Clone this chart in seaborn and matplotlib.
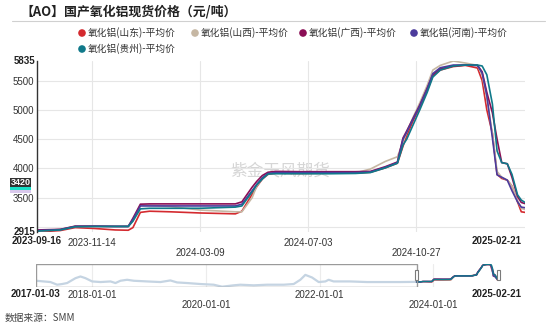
import matplotlib
matplotlib.use("Agg")
import numpy as np
import pandas as pd
import matplotlib.pyplot as plt
import matplotlib.transforms as mtransforms
from matplotlib.patches import Rectangle
import seaborn as sns

# ---- data -------------------------------------------------------------
dates = ["2023-09-16", "2023-10-11", "2023-10-27", "2023-11-17", "2023-12-09",
         "2023-12-23", "2023-12-28", "2024-01-05", "2024-01-15", "2024-02-06",
         "2024-03-09", "2024-04-16", "2024-04-23", "2024-05-04", "2024-05-09",
         "2024-05-15", "2024-05-21", "2024-05-29", "2024-06-24", "2024-07-27",
         "2024-08-23", "2024-09-08", "2024-09-24", "2024-10-07", "2024-10-13",
         "2024-10-17", "2024-10-24", "2024-10-31", "2024-11-08", "2024-11-14",
         "2024-11-22", "2024-12-06", "2024-12-19", "2025-01-01", "2025-01-06",
         "2025-01-11", "2025-01-17", "2025-01-22", "2025-01-27", "2025-02-02",
         "2025-02-07", "2025-02-13", "2025-02-17", "2025-02-21"]

shandong = [2915, 2940, 2990, 2975, 2950, 2945, 2990, 3250, 3270, 3260,
            3240, 3225, 3270, 3560, 3690, 3820, 3900, 3920, 3915, 3920,
            3920, 3935, 4010, 4090, 4380, 4560, 4820, 5050, 5330, 5580,
            5680, 5740, 5760, 5715, 5500, 5000, 4600, 3900, 3830, 3800,
            3700, 3430, 3260, 3250]
shanxi = [2930, 2960, 3010, 3010, 3010, 3010, 3100, 3370, 3370, 3350,
          3290, 3260, 3260, 3500, 3700, 3830, 3910, 3920, 3915, 3920,
          3925, 3990, 4120, 4200, 4450, 4620, 4880, 5120, 5420, 5680,
          5760, 5835, 5800, 5760, 5600, 5200, 4600, 3950, 3850, 3800,
          3700, 3450, 3320, 3300]
guangxi = [2950, 2960, 3015, 3015, 3010, 3010, 3150, 3390, 3395, 3395,
           3395, 3395, 3430, 3680, 3780, 3880, 3935, 3950, 3945, 3945,
           3945, 3950, 4030, 4110, 4520, 4640, 4860, 5080, 5370, 5600,
           5700, 5750, 5766, 5760, 5650, 5300, 4950, 4500, 4100, 4080,
           3850, 3520, 3420, 3400]
henan = [2940, 2955, 3010, 3012, 3010, 3010, 3130, 3360, 3360, 3360,
         3360, 3360, 3390, 3620, 3730, 3840, 3915, 3930, 3930, 3930,
         3930, 3940, 4020, 4100, 4500, 4620, 4850, 5070, 5360, 5620,
         5720, 5766, 5766, 5760, 5630, 5250, 4520, 3890, 3850, 3800,
         3620, 3430, 3340, 3330]
guizhou = [2930, 2950, 3005, 3010, 3010, 3010, 3100, 3310, 3320, 3320,
           3320, 3340, 3360, 3600, 3720, 3820, 3905, 3910, 3910, 3910,
           3915, 3930, 4010, 4090, 4400, 4500, 4750, 5000, 5300, 5560,
           5680, 5750, 5766, 5766, 5750, 5600, 5100, 4300, 4100, 4080,
           3900, 3550, 3460, 3420]

series_names = ["氧化铝(山东)-平均价", "氧化铝(山西)-平均价", "氧化铝(广西)-平均价",
                "氧化铝(河南)-平均价", "氧化铝(贵州)-平均价"]
series_values = [shandong, shanxi, guangxi, henan, guizhou]
series_colors = ["#d42a2f", "#c6b7a3", "#8a0e55", "#4c3b9c", "#10798a"]

# longer history shown in the range selector
hist_dates = ["2017-01-03", "2017-04-06", "2017-05-19", "2017-06-20", "2017-07-22",
              "2017-09-14", "2017-10-16", "2017-11-17", "2017-12-30", "2018-02-22",
              "2018-04-27", "2018-05-29", "2018-06-30", "2018-08-12", "2018-09-24",
              "2018-12-19", "2019-03-14", "2019-05-17", "2019-06-29", "2019-09-02",
              "2019-11-26", "2020-02-20", "2020-04-14", "2020-06-27", "2020-08-09",
              "2020-11-03", "2021-01-28", "2021-05-15", "2021-07-18", "2021-08-30",
              "2021-10-01", "2021-11-13", "2021-12-26", "2022-02-07", "2022-02-28",
              "2022-04-01", "2022-07-17", "2022-11-02", "2023-02-16", "2023-06-04",
              "2023-09-15"]
hist_values = [3130, 2920, 2490, 2600, 2760, 3550, 3820, 3550, 3020, 2920,
               3020, 2760, 3130, 3290, 3130, 3020, 2920, 3180, 2860, 2760,
               2600, 2490, 2170, 2390, 2490, 2390, 2490, 2490, 2600, 3290,
               4080, 3660, 2920, 3020, 3290, 3020, 3020, 2920, 2920, 2920,
               2950]

main_xticks_row1 = ["2023-11-14", "2024-07-03"]
main_xticks_row2 = ["2024-03-09", "2024-10-27"]
main_yticks = [3000, 3500, 4000, 4500, 5000, 5500]
main_ylabels = ["", "3500", "4000", "4500", "5000", "5500"]
nav_xticks_row1 = ["2018-01-01", "2022-01-01"]
nav_xticks_row2 = ["2020-01-01", "2024-01-01"]
y_min, y_max = 2915, 5835
last_label = "3420"

# ---- frames -----------------------------------------------------------
long_df = pd.concat(
    [pd.DataFrame({"date": pd.to_datetime(dates), "price": v, "series": n})
     for n, v in zip(series_names, series_values)],
    ignore_index=True)
hist_df = pd.DataFrame({"date": pd.to_datetime(hist_dates), "price": hist_values})
palette = dict(zip(series_names, series_colors))

sns.set_theme(style="white")
plt.rcParams["font.family"] = ["Liberation Sans", "Noto Sans CJK SC", "DejaVu Sans"]

W, H = 550, 327
fig = plt.figure(figsize=(W / 100, H / 100), dpi=100)
fig.patch.set_facecolor("white")


def frac(x0, y0, x1, y1):
    return [x0 / W, 1 - y1 / H, (x1 - x0) / W, (y1 - y0) / H]


# ---- main chart -------------------------------------------------------
ax = fig.add_axes(frac(37, 61, 525, 232))
ax.text(0.498, 0.36, "紫金天风期货", transform=ax.transAxes, fontsize=12,
        color="#d6d6d6", ha="center", va="center",
        family=["Noto Sans CJK SC"], zorder=0.5)
sns.lineplot(data=long_df, x="date", y="price", hue="series", palette=palette,
             linewidth=1.2, legend=False, ax=ax, estimator=None, sort=False)
start, end = pd.Timestamp(dates[0]), pd.Timestamp(dates[-1])
ax.set_xlim(start, end)
ax.set_ylim(y_min, y_max)
ax.set_xlabel("")
ax.set_ylabel("")
ax.set_yticks(main_yticks)
ax.set_yticklabels(main_ylabels)
ax.set_xticks(pd.to_datetime(main_xticks_row1))
ax.set_xticklabels(main_xticks_row1)
ax.set_xticks(pd.to_datetime(main_xticks_row2), minor=True)
ax.set_xticklabels(main_xticks_row2, minor=True)
ax.tick_params(axis="y", length=0, pad=2, labelsize=7, labelcolor="#333333")
ax.tick_params(axis="x", which="major", length=0, pad=4, labelsize=7,
               labelcolor="#333333")
ax.tick_params(axis="x", which="minor", length=0, pad=11.5, labelsize=7,
               labelcolor="#333333")
ax.grid(True, which="major", color="#e6e6e6", linewidth=0.8)
ax.grid(True, which="minor", axis="x", color="#e6e6e6", linewidth=0.8)
ax.set_axisbelow(True)
for side in ["top", "right", "bottom"]:
    ax.spines[side].set_visible(False)
ax.spines["left"].set_color("#333333")
ax.spines["left"].set_linewidth(1.0)

# ---- range selector ---------------------------------------------------
nav = fig.add_axes(frac(36, 264, 498, 287))
sns.lineplot(data=hist_df, x="date", y="price", color="#c5d4e2", linewidth=1.6,
             ax=nav, estimator=None, sort=False)
sns.lineplot(data=long_df, x="date", y="price", hue="series", palette=palette,
             linewidth=1.0, legend=False, ax=nav, estimator=None, sort=False)
nav.set_xlim(pd.Timestamp(hist_dates[0]), end)
nav.set_ylim(2120, 5840)
nav.set_xlabel("")
nav.set_ylabel("")
nav.set_yticks([])
nav.set_xticks(pd.to_datetime(nav_xticks_row1))
nav.set_xticklabels(nav_xticks_row1)
nav.set_xticks(pd.to_datetime(nav_xticks_row2), minor=True)
nav.set_xticklabels(nav_xticks_row2, minor=True)
nav.tick_params(axis="x", which="major", length=0, pad=2.5, labelsize=7,
                labelcolor="#333333")
nav.tick_params(axis="x", which="minor", length=0, pad=9, labelsize=7,
                labelcolor="#333333")
nav.grid(True, which="both", axis="x", color="#ececec", linewidth=0.8)
for side in nav.spines:
    nav.spines[side].set_visible(False)
blend = mtransforms.blended_transform_factory(nav.transData, nav.transAxes)
x0 = matplotlib.dates.date2num(pd.Timestamp(hist_dates[0]))
x1 = matplotlib.dates.date2num(start)
nav.add_patch(Rectangle((x0, 0), x1 - x0, 1, transform=blend, fill=False,
                        edgecolor="#9a9a9a", linewidth=1.0, zorder=5))

# ---- overlay for titles, legend and labels ----------------------------
ov = fig.add_axes([0, 0, 1, 1], zorder=10)
ov.set_xlim(0, W)
ov.set_ylim(H, 0)
ov.axis("off")
ov.patch.set_alpha(0)

ov.text(20, 11.5, "【AO】国产氧化铝现货价格（元/吨）", fontsize=9.3, fontweight="bold",
        family=["Noto Sans CJK SC"], color="#222222", va="center", ha="left")
ov.plot([12, 545], [21, 21], color="#d0d0d0", linewidth=0.8)

legend_pos = [(82, 33), (195, 33), (303, 33), (414, 33), (82, 49)]
for (lx, ly), name, col in zip(legend_pos, series_names, series_colors):
    ov.scatter([lx], [ly], s=30, color=col, edgecolor="none")
    ov.text(lx + 5.5, ly, name, fontsize=7, color="#333333", va="center", ha="left",
            family=["Noto Sans CJK SC"])

bold = dict(fontsize=7, fontweight="bold", color="#222222", va="center")
ov.text(35, 61, f"{y_max}", ha="right", **bold)
ov.text(35, 232, f"{y_min}", ha="right", **bold)
ov.text(37, 241, dates[0], ha="center", **bold)
ov.text(497, 241, dates[-1], ha="center", **bold)
ov.text(35.5, 294, hist_dates[0], ha="center", **bold)
ov.text(497, 294, dates[-1], ha="center", **bold)

# stacked last-value tags on the y axis
ov.add_patch(Rectangle((10, 184), 21, 9, facecolor="#d9c8ec", edgecolor="none"))
ov.add_patch(Rectangle((10, 181), 21, 9, facecolor="#19e0c8", edgecolor="none"))
ov.add_patch(Rectangle((10, 177.5), 21, 9.5, facecolor="#333333", edgecolor="none"))
ov.text(20.5, 182.3, last_label, fontsize=6.5, color="white", ha="center",
        va="center", fontweight="bold")

# selector handles
for hx in (416.5, 498.5):
    ov.add_patch(Rectangle((hx - 1.8, 270), 3.6, 10, facecolor="white",
                           edgecolor="#7a7a7a", linewidth=0.8))

ov.text(5, 318, "数据来源：SMM", fontsize=7, color="#444444", va="center",
        ha="left", family=["Noto Sans CJK SC", "Liberation Sans"])

fig.savefig("out.png", dpi=100)
